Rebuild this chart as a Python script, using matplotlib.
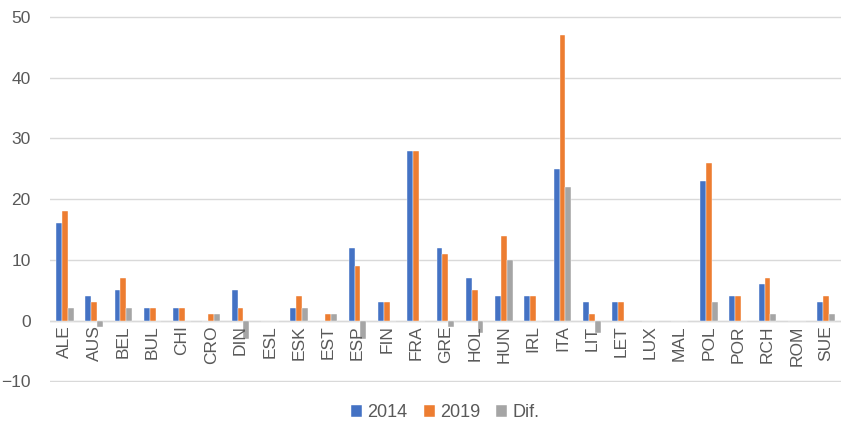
import matplotlib.pyplot as plt
import numpy as np

plt.rcParams['font.family'] = ['Liberation Sans', 'DejaVu Sans']

# country codes and seat counts
paises = ['ALE', 'AUS', 'BEL', 'BUL', 'CHI', 'CRO', 'DIN', 'ESL', 'ESK', 'EST',
          'ESP', 'FIN', 'FRA', 'GRE', 'HOL', 'HUN', 'IRL', 'ITA', 'LIT', 'LET',
          'LUX', 'MAL', 'POL', 'POR', 'RCH', 'ROM', 'SUE']
v2014 = [16, 4, 5, 2, 2, 0, 5, 0, 2, 0, 12, 3, 28, 12, 7, 4, 4, 25, 3, 3,
         0, 0, 23, 4, 6, 0, 3]
v2019 = [18, 3, 7, 2, 2, 1, 2, 0, 4, 1, 9, 3, 28, 11, 5, 14, 4, 47, 1, 3,
         0, 0, 26, 4, 7, 0, 4]
dif = [2, -1, 2, 0, 0, 1, -3, 0, 2, 1, -3, 0, 0, -1, -2, 10, 0, 22, -2, 0,
       0, 0, 3, 0, 1, 0, 1]

fig = plt.figure(figsize=(8.5, 4.3), dpi=100)
ax = fig.add_axes([0.059, 0.112, 0.93, 0.85])

x = np.arange(len(paises))
w = 0.2
ax.bar(x - w, v2014, w, color='#4472C4', label='2014', edgecolor='white', linewidth=0.3)
ax.bar(x, v2019, w, color='#ED7D31', label='2019', edgecolor='white', linewidth=0.3)
ax.bar(x + w, dif, w, color='#A5A5A5', label='Dif.', edgecolor='white', linewidth=0.3)

ax.set_ylim(-10.1, 50.1)
ax.set_yticks(range(-10, 51, 10))
ax.set_xlim(-0.5, len(paises) - 0.5)
ax.yaxis.grid(True, color='#D9D9D9', linewidth=1)
ax.set_axisbelow(True)
for s in ax.spines.values():
    s.set_visible(False)
ax.axhline(0, color='#D9D9D9', linewidth=1, zorder=0)

ax.tick_params(axis='y', length=0, labelsize=12.5, colors='#595959', pad=14)
ax.set_xticks([])
for i, p in enumerate(paises):
    ax.text(i, -0.8, p, rotation=90, ha='center', va='top', fontsize=12.5,
            color='#595959')

ax.legend(loc='center', bbox_to_anchor=(0.5, -0.085), ncol=3, frameon=False,
          fontsize=13, labelcolor='#595959', handlelength=0.6, handleheight=0.6,
          handletextpad=0.3, columnspacing=0.9)

fig.savefig('out.png')
